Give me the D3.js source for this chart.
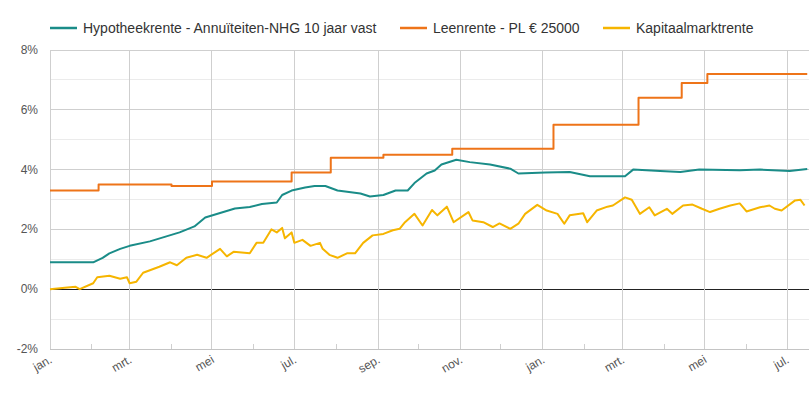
<!DOCTYPE html>
<html><head><meta charset="utf-8">
<script src="https://cdn.jsdelivr.net/npm/d3@7"></script>
<style>body{margin:0;background:#fff;font-family:"Liberation Sans",Arial,sans-serif;}</style>
</head><body><svg id="c" width="810" height="400"></svg>
<script>
// days since 2022-01-01, rate in %
var hypDays = [0,32,39,44,52,59,74,85,96,107,115,126,137,148,157,168,172,179,189,196,204,213,230,237,247,256,265,270,279,285,290,301,311,326,341,347,367,385,400,426,432,452,467,481,511,526,548,561];
var hypVals = [0.9,0.9,1.05,1.2,1.35,1.45,1.6,1.75,1.9,2.1,2.4,2.55,2.7,2.75,2.85,2.9,3.15,3.3,3.4,3.45,3.45,3.3,3.2,3.1,3.15,3.3,3.3,3.55,3.87,3.97,4.17,4.33,4.25,4.17,4.03,3.87,3.9,3.92,3.78,3.78,4.0,3.95,3.92,4.0,3.98,4.0,3.95,4.02];
var leenDays = [0,36,90,120,179,208,247,298,373,436,468,487,561];
var leenVals = [3.3,3.5,3.45,3.6,3.9,4.4,4.5,4.7,5.5,6.4,6.9,7.2,7.2];
var kapDays = [0,11,19,22,32,35,44,52,57,59,64,69,81,89,94,101,109,116,126,131,136,148,153,158,164,168,172,174,179,181,187,193,200,202,207,213,220,226,232,239,247,254,259,263,270,276,283,287,294,299,310,313,321,328,333,341,347,352,361,368,376,381,385,395,398,405,413,417,426,431,437,444,448,457,461,469,476,483,489,496,504,511,516,526,533,537,542,552,556,559];
var kapVals = [0,0.05,0.08,0,0.2,0.4,0.45,0.35,0.4,0.2,0.25,0.55,0.75,0.9,0.8,1.05,1.15,1.05,1.35,1.1,1.25,1.2,1.55,1.55,2.0,1.9,2.05,1.7,1.9,1.55,1.65,1.45,1.55,1.35,1.15,1.05,1.2,1.2,1.55,1.8,1.85,1.97,2.02,2.24,2.52,2.13,2.65,2.47,2.76,2.24,2.58,2.3,2.24,2.08,2.2,2.02,2.19,2.52,2.82,2.63,2.52,2.19,2.47,2.54,2.24,2.63,2.76,2.8,3.07,2.99,2.52,2.74,2.47,2.69,2.52,2.8,2.83,2.69,2.58,2.69,2.8,2.87,2.6,2.74,2.8,2.69,2.63,2.97,2.99,2.8];
var yTicks = [-2,-1,0,1,2,3,4,5,6,7,8];
var monthNames = ["jan.","feb.","mrt.","apr.","mei","jun.","jul.","aug.","sep.","okt.","nov.","dec."];
var series = [
  {name:"Hypotheekrente - Annuïteiten-NHG 10 jaar vast", color:"#1a8c88", days:hypDays, vals:hypVals, curve:d3.curveLinear, lx:50},
  {name:"Leenrente - PL € 25000", color:"#ee7419", days:leenDays, vals:leenVals, curve:d3.curveStepAfter, lx:400},
  {name:"Kapitaalmarktrente", color:"#f6b500", days:kapDays, vals:kapVals, curve:d3.curveLinear, lx:603}
];

var svg = d3.select("#c");
var start = new Date(2022,0,1);
var toDate = function(d) { return d3.timeDay.offset(start, d); };
var x = d3.scaleTime().domain([start, new Date(2023,6,1)]).range([50,787]);
var y = d3.scaleLinear().domain([-2,8]).range([349,50]);
var right = 809;

// grid
svg.selectAll("line.hg").data(yTicks).enter().append("line")
  .attr("x1",50).attr("x2",right).attr("y1",function(d){return y(d);}).attr("y2",function(d){return y(d);})
  .attr("stroke",function(d){return d===0?"#222":(d%2===0?"#cfcfcf":"#ebebeb");}).attr("stroke-width",1).attr("shape-rendering","crispEdges");
var months = d3.timeMonth.range(start, new Date(2023,7,1));
var major = months.filter(function(m){return m.getMonth()%2===0;});
var minor = months.filter(function(m){return m.getMonth()%2===1;});
svg.selectAll("line.vg").data(major).enter().append("line")
  .attr("x1",function(d){return x(d);}).attr("x2",function(d){return x(d);}).attr("y1",50).attr("y2",349)
  .attr("stroke","#cfcfcf").attr("shape-rendering","crispEdges");
svg.selectAll("line.mt").data(minor).enter().append("line")
  .attr("x1",function(d){return x(d);}).attr("x2",function(d){return x(d);}).attr("y1",344).attr("y2",349)
  .attr("stroke","#cfcfcf").attr("shape-rendering","crispEdges");
svg.append("line").attr("x1",50).attr("x2",right).attr("y1",349).attr("y2",349).attr("stroke","#c4c4c4").attr("shape-rendering","crispEdges");

// labels
svg.selectAll("text.yl").data(yTicks.filter(function(d){return d%2===0;})).enter().append("text")
  .attr("x",38).attr("y",function(d){return y(d)+4;}).attr("text-anchor","end")
  .attr("font-size",12).attr("fill","#555").text(function(d){return d+"%";});
svg.selectAll("text.xl").data(major).enter().append("text")
  .attr("transform",function(d){return "translate("+(x(d)+3)+",362) rotate(-30)";})
  .attr("text-anchor","end").attr("font-size",12).attr("fill","#555")
  .text(function(d){return monthNames[d.getMonth()];});

// lines
series.forEach(function(s) {
  var line = d3.line().curve(s.curve)
    .x(function(d,i){return x(toDate(s.days[i]));})
    .y(function(d){return y(d);});
  svg.append("path").datum(s.vals).attr("d",line).attr("fill","none")
    .attr("stroke",s.color).attr("stroke-width",2).attr("stroke-linejoin","round");
  svg.append("line").attr("x1",s.lx).attr("x2",s.lx+27).attr("y1",28).attr("y2",28)
    .attr("stroke",s.color).attr("stroke-width",2.5);
  svg.append("text").attr("x",s.lx+33).attr("y",33).attr("font-size",14).attr("fill","#333").text(s.name);
});
</script></body></html>
